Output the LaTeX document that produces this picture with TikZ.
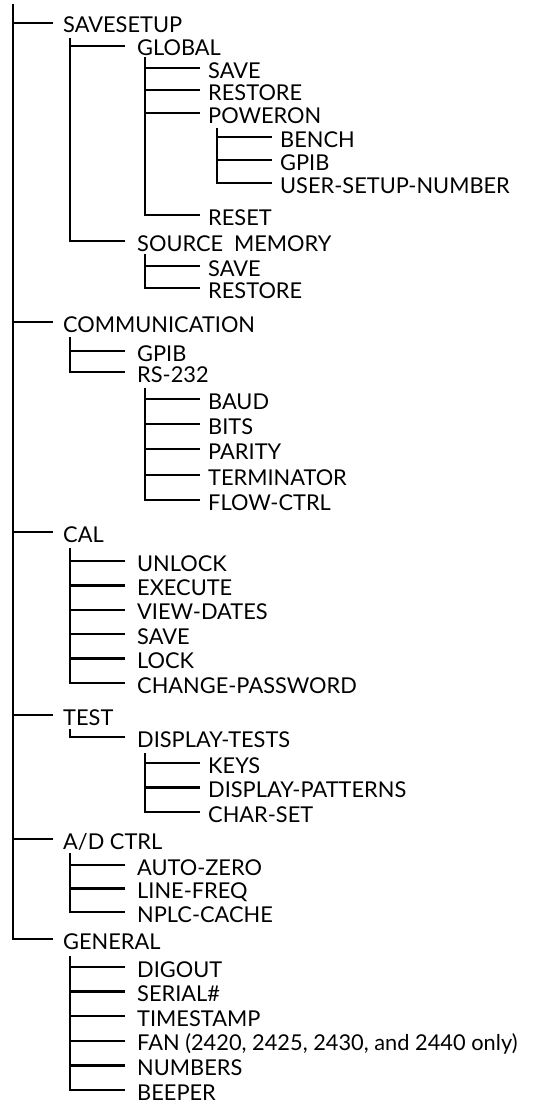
\documentclass[tikz,border=0pt]{standalone}
\usepackage{fontspec}
\setmainfont{Lato}
\begin{document}
\begin{tikzpicture}[x=1pt,y=-1pt]
\tikzset{
 item/.style={anchor=west, inner ysep=0pt, text height=20pt, text depth=0pt, font=\fontsize{21.8}{22}\selectfont},
 l1/.style={item, inner xsep=10pt},
 l2/.style={item, inner xsep=12pt},
 l3/.style={item, inner xsep=8pt},
 l4/.style={item, inner xsep=8pt},
 br/.style={line width=2.3pt},
}
\useasboundingbox (0,0) rectangle (555,1108);
% level 1
\node[l1] (savesetup) at (53,23) {SAVESETUP};
\node[l1] (comm) at (53,322) {COMMUNICATION};
\node[l1] (cal) at (53,532) {CAL};
\node[l1] (test) at (53,715) {TEST};
\node[l1] (adctrl) at (53,839) {A/D CTRL};
\node[l1] (general) at (53,939) {GENERAL};
% savesetup
\node[l2] (global) at (125,46) {GLOBAL};
\node[l3] (gsave) at (200,68) {SAVE};
\node[l3] (grestore) at (200,90) {RESTORE};
\node[l3] (poweron) at (200,113) {POWERON};
\node[l4] (bench) at (272,137) {BENCH};
\node[l4] (pgpib) at (272,160) {GPIB};
\node[l4] (usn) at (272,183) {USER-SETUP-NUMBER};
\node[l3] (reset) at (200,215) {RESET};
\node[l2] (srcmem) at (125,241) {SOURCE\enspace MEMORY};
\node[l3] (ssave) at (200,266) {SAVE};
\node[l3] (srestore) at (200,288) {RESTORE};
% communication
\node[l2] (cgpib) at (125,351) {GPIB};
\node[l2] (rs) at (125,372) {RS-232};
\node[l3] (baud) at (200,399) {BAUD};
\node[l3] (bits) at (200,424) {BITS};
\node[l3] (parity) at (200,449) {PARITY};
\node[l3] (term) at (200,475) {TERMINATOR};
\node[l3] (flow) at (200,500) {FLOW-CTRL};
% cal
\node[l2] (unlock) at (125,561) {UNLOCK};
\node[l2] (execute) at (125,585.4) {EXECUTE};
\node[l2] (viewdates) at (125,609.8) {VIEW-DATES};
\node[l2] (csave) at (125,634.2) {SAVE};
\node[l2] (lock) at (125,658.6) {LOCK};
\node[l2] (chpw) at (125,683) {CHANGE-PASSWORD};
% test
\node[l2] (dt) at (125,737) {DISPLAY-TESTS};
\node[l3] (keys) at (200,763) {KEYS};
\node[l3] (dp) at (200,787.5) {DISPLAY-PATTERNS};
\node[l3] (cs) at (200,812) {CHAR-SET};
% a/d
\node[l2] (az) at (125,865) {AUTO-ZERO};
\node[l2] (lf) at (125,888.5) {LINE-FREQ};
\node[l2] (nc) at (125,912) {NPLC-CACHE};
% general
\node[l2] (dig) at (125,967) {DIGOUT};
\node[l2] (ser) at (125,991.6) {SERIAL\#};
\node[l2] (ts) at (125,1016.2) {TIMESTAMP};
\node[l2] (fan) at (125,1040.8) {FAN (2420, 2425, 2430, and 2440 only)};
\node[l2] (num) at (125,1065.4) {NUMBERS};
\node[l2] (beep) at (125,1090) {BEEPER};
% bar tops
\coordinate (r0) at (13,4);
\coordinate (b1) at (70,38);
\coordinate (b2) at (145,57);
\coordinate (b3) at (217,128);
\coordinate (b4) at (145,254);
\coordinate (b5) at (70,337);
\coordinate (b6) at (145,388);
\coordinate (b7) at (70,548);
\coordinate (b8) at (70,729);
\coordinate (b9) at (145,753);
\coordinate (b10) at (70,853);
\coordinate (b11) at (70,956);
% connectors
\draw[br] (r0) |- (general.west);
\foreach \c in {savesetup,comm,cal,test,adctrl} \draw[br] (r0 |- \c.west) -- (\c.west);
\draw[br] (b1) |- (srcmem.west);
\draw[br] (b1 |- global.west) -- (global.west);
\draw[br] (b2) |- (reset.west);
\foreach \c in {gsave,grestore,poweron} \draw[br] (b2 |- \c.west) -- (\c.west);
\draw[br] (b3) |- (usn.west);
\foreach \c in {bench,pgpib} \draw[br] (b3 |- \c.west) -- (\c.west);
\draw[br] (b4) |- (srestore.west);
\draw[br] (b4 |- ssave.west) -- (ssave.west);
\draw[br] (b5) |- (rs.west);
\draw[br] (b5 |- cgpib.west) -- (cgpib.west);
\draw[br] (b6) |- (flow.west);
\foreach \c in {baud,bits,parity,term} \draw[br] (b6 |- \c.west) -- (\c.west);
\draw[br] (b7) |- (chpw.west);
\foreach \c in {unlock,execute,viewdates,csave,lock} \draw[br] (b7 |- \c.west) -- (\c.west);
\draw[br] (b8) |- (dt.west);
\draw[br] (b9) |- (cs.west);
\foreach \c in {keys,dp} \draw[br] (b9 |- \c.west) -- (\c.west);
\draw[br] (b10) |- (nc.west);
\foreach \c in {az,lf} \draw[br] (b10 |- \c.west) -- (\c.west);
\draw[br] (b11) |- (beep.west);
\foreach \c in {dig,ser,ts,fan,num} \draw[br] (b11 |- \c.west) -- (\c.west);
\end{tikzpicture}
\end{document}
